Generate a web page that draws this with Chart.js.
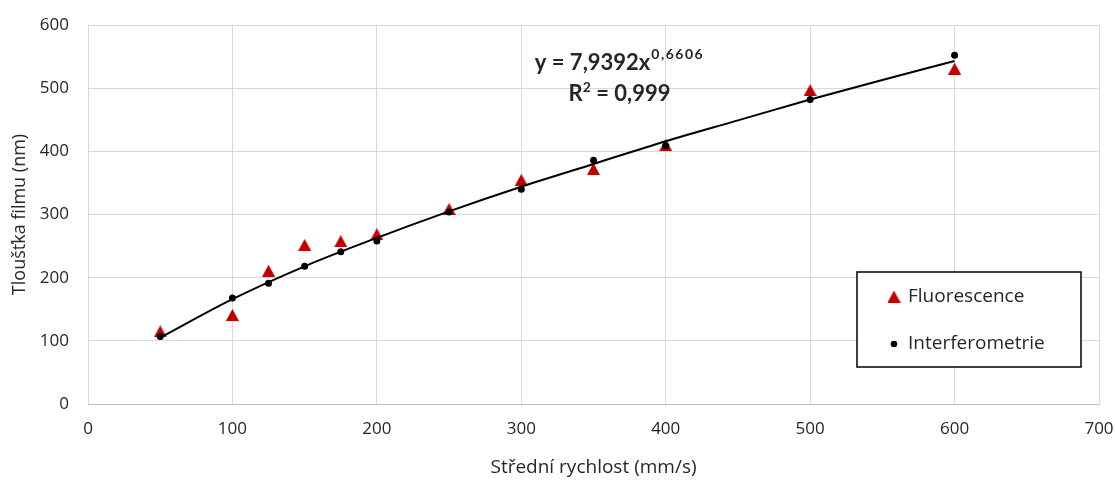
<!DOCTYPE html>
<html>
<head>
<meta charset="utf-8">
<script src="https://cdn.jsdelivr.net/npm/chart.js@4.4.1/dist/chart.umd.min.js"></script>
<style>
  html, body { margin: 0; padding: 0; background: #ffffff; }
  #wrap { position: relative; width: 1115px; height: 487px; }
</style>
</head>
<body>
<div id="wrap"><canvas id="c" width="1115" height="487"></canvas></div>
<script>
// ---- Data ----
const speeds = [50, 100, 125, 150, 175, 200, 250, 300, 350, 400, 500, 600];
const fluorescence = [115, 141, 211, 252, 258, 269, 309, 355, 372, 410, 497, 531];
const interferometrie = [107, 168, 191, 218, 241, 258, 304, 340, 386, 409, 482, 552];
const trendSpeeds = [50, 100, 150, 200, 250, 300, 350, 400, 450, 500, 550, 600];
const trendValues = [105, 166, 218, 263, 305, 344, 380, 416, 449, 482, 513, 543];
const xTicks = [0, 100, 200, 300, 400, 500, 600, 700];
const yTicks = [0, 100, 200, 300, 400, 500, 600];
const seriesLabels = ['Fluorescence', 'Interferometrie'];
const xTitle = 'Střední rychlost (mm/s)';
const yTitle = 'Tloušťka filmu (nm)';
const eqMain = 'y = 7,9392x';
const eqExp = '0,6606';
const r2Label = 'R';
const r2Sup = '2';
const r2Value = ' = 0,999';

const FONT = '"Open Sans", Lato, sans-serif';
const EQFONT = 'Lato, "Open Sans", sans-serif';
const RED = '#C00000';
const TEXT = '#262626';

// triangle marker image (bbox centered)
function makeTriangle(w, h) {
  const cv = document.createElement('canvas');
  cv.width = w; cv.height = h;
  const g = cv.getContext('2d');
  g.fillStyle = RED;
  g.beginPath();
  g.moveTo(w / 2, 0);
  g.lineTo(w, h);
  g.lineTo(0, h);
  g.closePath();
  g.fill();
  return cv;
}
const triImg = makeTriangle(13, 12);

const pts = (xs, ys) => xs.map((x, i) => ({ x: x, y: ys[i] }));

const annotationPlugin = {
  id: 'equation',
  afterDatasetsDraw(chart) {
    const ctx = chart.ctx;
    const xs = chart.scales.x, ys = chart.scales.y;
    const cx = xs.getPixelForValue(368);
    ctx.save();
    ctx.fillStyle = TEXT;
    ctx.textBaseline = 'alphabetic';
    ctx.textAlign = 'left';
    const bigFont = 'bold 22px ' + EQFONT;
    const supFont = 'bold 14px ' + EQFONT;
    // line 1
    ctx.font = bigFont;
    const w1 = ctx.measureText(eqMain).width;
    ctx.font = supFont;
    ctx.letterSpacing = '1.5px';
    const w2 = ctx.measureText(eqExp).width;
    ctx.letterSpacing = '0px';
    const base1 = ys.getPixelForValue(528);
    let x0 = cx - (w1 + w2 + 1) / 2;
    ctx.font = bigFont;
    ctx.fillText(eqMain, x0, base1);
    ctx.font = supFont;
    ctx.letterSpacing = '1.5px';
    ctx.fillText(eqExp, x0 + w1 + 1, base1 - 11);
    ctx.letterSpacing = '0px';
    // line 2
    ctx.font = bigFont;
    const wr = ctx.measureText(r2Label).width;
    const wv = ctx.measureText(r2Value).width;
    ctx.font = supFont;
    const ws = ctx.measureText(r2Sup).width;
    const base2 = ys.getPixelForValue(479);
    x0 = cx - (wr + ws + wv) / 2;
    ctx.font = bigFont;
    ctx.fillText(r2Label, x0, base2);
    ctx.font = supFont;
    ctx.fillText(r2Sup, x0 + wr, base2 - 9);
    ctx.font = bigFont;
    ctx.fillText(r2Value, x0 + wr + ws, base2);
    ctx.restore();
  }
};

const legendPlugin = {
  id: 'boxLegend',
  afterDraw(chart) {
    const ctx = chart.ctx;
    const ca = chart.chartArea;
    const bx = ca.right - 242, by = ca.top + 247, bw = 224, bh = 95;
    ctx.save();
    ctx.fillStyle = '#ffffff';
    ctx.fillRect(bx, by, bw, bh);
    ctx.strokeStyle = '#000000';
    ctx.lineWidth = 1.5;
    ctx.strokeRect(bx, by, bw, bh);
    ctx.font = '19px ' + FONT;
    ctx.fillStyle = TEXT;
    ctx.textBaseline = 'middle';
    ctx.textAlign = 'left';
    const rows = [by + 24.5, by + 72];
    ctx.drawImage(triImg, bx + 37 - 6.5, rows[0] - 6);
    ctx.fillText(chart.data.datasets[0].label, bx + 51, rows[0]);
    ctx.fillStyle = '#000000';
    ctx.beginPath();
    ctx.arc(bx + 37, rows[1], 3.3, 0, Math.PI * 2);
    ctx.fill();
    ctx.fillStyle = TEXT;
    ctx.fillText(chart.data.datasets[1].label, bx + 51, rows[1]);
    ctx.restore();
  }
};

new Chart(document.getElementById('c'), {
  type: 'scatter',
  data: {
    datasets: [
      {
        label: seriesLabels[0],
        data: pts(speeds, fluorescence),
        pointStyle: triImg,
        pointRadius: 7,
        pointHoverRadius: 7,
        backgroundColor: RED,
        borderColor: RED,
        order: 3
      },
      {
        label: seriesLabels[1],
        data: pts(speeds, interferometrie),
        pointStyle: 'circle',
        pointRadius: 3.5,
        pointHoverRadius: 3.5,
        backgroundColor: '#000000',
        borderColor: '#000000',
        borderWidth: 0,
        order: 1
      },
      {
        label: 'trend',
        type: 'line',
        data: pts(trendSpeeds, trendValues),
        showLine: true,
        borderColor: '#000000',
        borderWidth: 2,
        pointRadius: 0,
        pointHoverRadius: 0,
        cubicInterpolationMode: 'monotone',
        fill: false,
        order: 2
      }
    ]
  },
  options: {
    responsive: false,
    animation: false,
    devicePixelRatio: 1,
    layout: { padding: { left: 0, right: 16, top: 25, bottom: 0 } },
    plugins: {
      legend: { display: false },
      tooltip: { enabled: false }
    },
    scales: {
      x: {
        type: 'linear',
        min: 0, max: 700,
        afterBuildTicks(scale) { scale.ticks = xTicks.map(v => ({ value: v })); },
        afterFit(scale) { scale.height = 83; scale.paddingLeft = 0; scale.paddingRight = 0; },
        grid: { color: '#d9d9d9', lineWidth: 1, drawTicks: false },
        border: { color: '#bfbfbf', width: 1 },
        ticks: { color: TEXT, font: { family: FONT, size: 17 }, padding: 15, maxRotation: 0 },
        title: { display: true, text: xTitle, color: TEXT, font: { family: FONT, size: 19 }, padding: { top: 0, bottom: 8 } }
      },
      y: {
        type: 'linear',
        min: 0, max: 600,
        afterBuildTicks(scale) { scale.ticks = yTicks.map(v => ({ value: v })); },
        afterFit(scale) { scale.width = 88; scale.paddingTop = 0; scale.paddingBottom = 0; },
        grid: { color: '#d9d9d9', lineWidth: 1, drawTicks: false },
        border: { color: '#d9d9d9', width: 1 },
        ticks: { color: TEXT, font: { family: FONT, size: 17 }, padding: 19 },
        title: { display: true, text: yTitle, color: TEXT, font: { family: FONT, size: 18 }, padding: { top: 9, bottom: 0 } }
      }
    }
  },
  plugins: [annotationPlugin, legendPlugin]
});
</script>
</body>
</html>
